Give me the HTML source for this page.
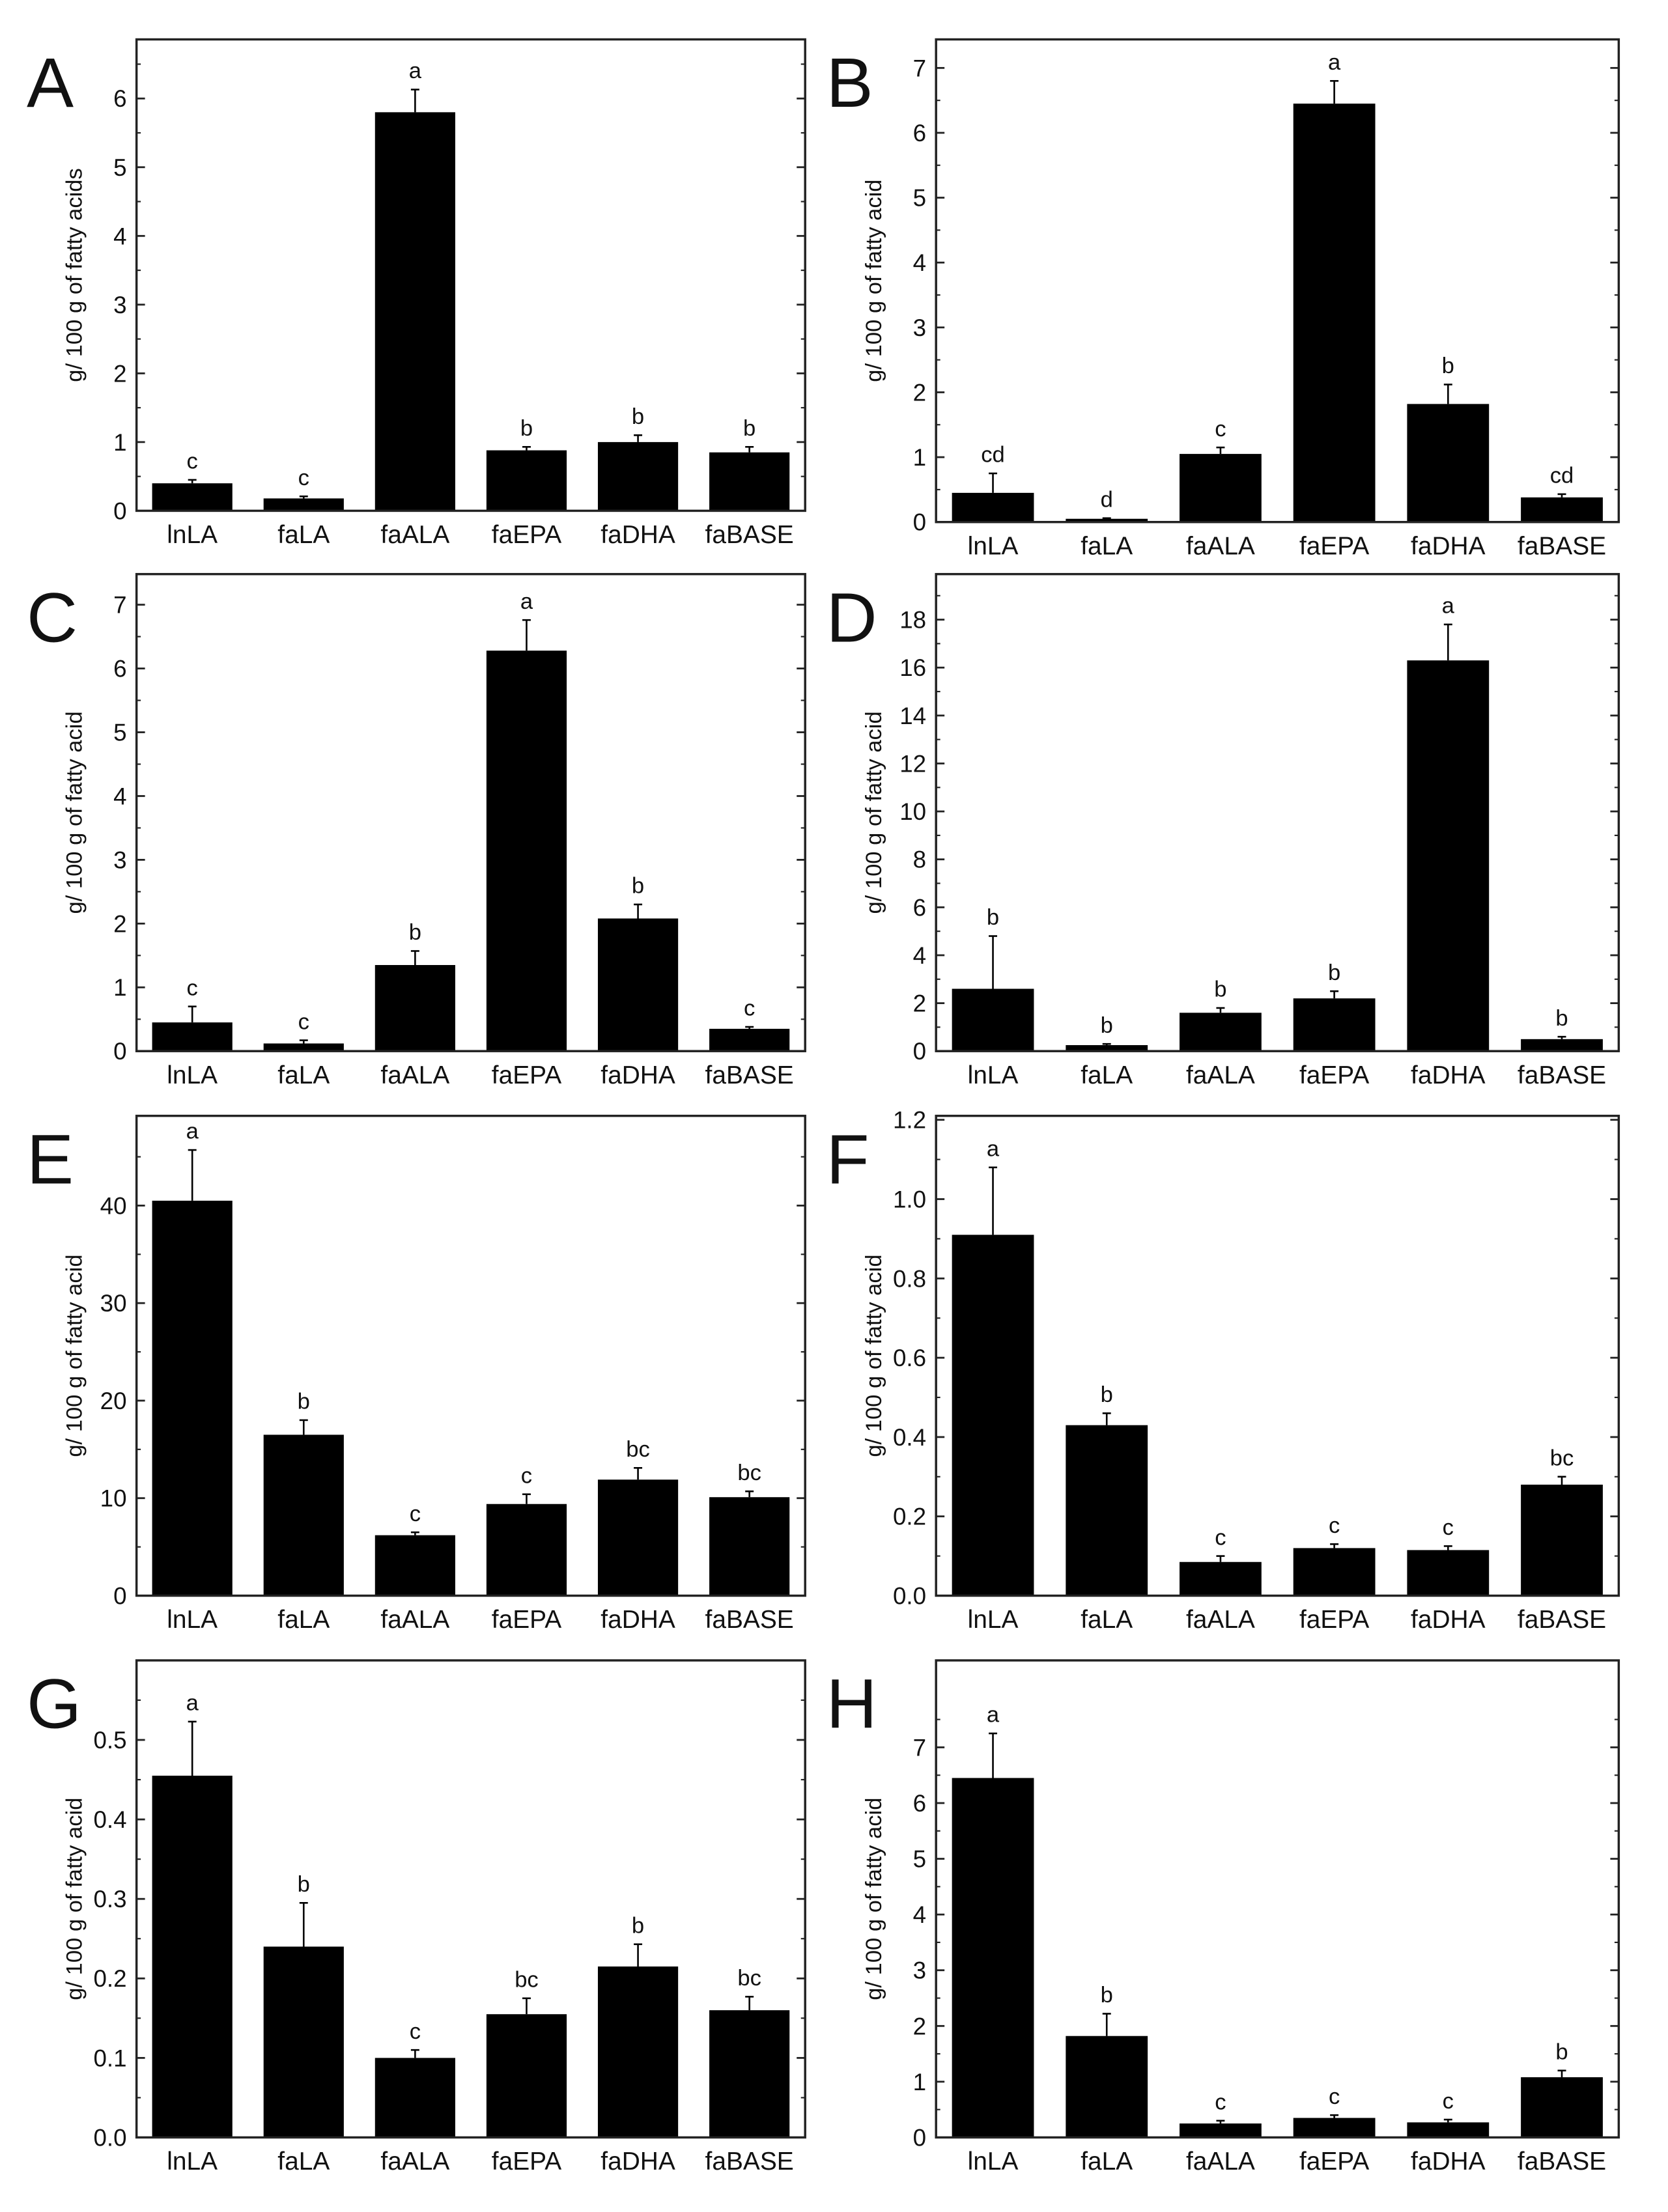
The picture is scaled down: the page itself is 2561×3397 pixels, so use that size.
<!DOCTYPE html>
<html><head><meta charset="utf-8"><style>
html,body{margin:0;padding:0;background:#fff}
svg{display:block}
text{font-family:"Liberation Sans",Arial,sans-serif;fill:#111}
</style></head><body>
<svg id="fig" width="2561" height="3397" viewBox="0 0 1185 1572" preserveAspectRatio="none" xmlns="http://www.w3.org/2000/svg"></svg>
<script>
const categories = ["lnLA","faLA","faALA","faEPA","faDHA","faBASE"];
const valsA = [0.4,0.18,5.8,0.88,1.0,0.85];
const errA = [0.05,0.03,0.33,0.05,0.1,0.08];
const letA = ["c","c","a","b","b","b"];
const valsB = [0.45,0.05,1.05,6.45,1.82,0.38];
const errB = [0.3,0.01,0.1,0.35,0.3,0.05];
const letB = ["cd","d","c","a","b","cd"];
const valsC = [0.45,0.12,1.35,6.28,2.08,0.35];
const errC = [0.25,0.05,0.22,0.48,0.22,0.03];
const letC = ["c","c","b","a","b","c"];
const valsD = [2.6,0.25,1.6,2.2,16.3,0.5];
const errD = [2.2,0.05,0.2,0.3,1.5,0.1];
const letD = ["b","b","b","b","a","b"];
const valsE = [40.5,16.5,6.2,9.4,11.9,10.1];
const errE = [5.2,1.5,0.3,1.0,1.2,0.6];
const letE = ["a","b","c","c","bc","bc"];
const valsF = [0.91,0.43,0.085,0.12,0.115,0.28];
const errF = [0.17,0.03,0.015,0.01,0.01,0.02];
const letF = ["a","b","c","c","c","bc"];
const valsG = [0.455,0.24,0.1,0.155,0.215,0.16];
const errG = [0.068,0.055,0.01,0.02,0.028,0.017];
const letG = ["a","b","c","bc","b","bc"];
const valsH = [6.45,1.82,0.25,0.35,0.27,1.08];
const errH = [0.8,0.4,0.05,0.05,0.05,0.12];
const letH = ["a","b","c","c","c","b"];
const ticksA=[0,1,2,3,4,5,6], ticksB=[0,1,2,3,4,5,6,7], ticksC=[0,1,2,3,4,5,6,7];
const ticksD=[0,2,4,6,8,10,12,14,16,18], ticksE=[0,10,20,30,40];
const ticksF=[0,0.2,0.4,0.6,0.8,1.0,1.2], ticksG=[0,0.1,0.2,0.3,0.4,0.5], ticksH=[0,1,2,3,4,5,6,7];

const NS="http://www.w3.org/2000/svg";
const svg=document.getElementById('fig');
function mk(t,a,p){const e=document.createElementNS(NS,t);for(const k in a)e.setAttribute(k,a[k]);(p||svg).appendChild(e);return e;}

const panels=[
 {id:"A",x0:97,x1:572,y0:28,y1:363,max:6.86,vals:valsA,err:errA,lets:letA,ticks:ticksA,dec:0,title:"g/ 100 g of fatty acids"},
 {id:"B",x0:665,x1:1150,y0:28,y1:371,max:7.44,vals:valsB,err:errB,lets:letB,ticks:ticksB,dec:0,title:"g/ 100 g of fatty acid"},
 {id:"C",x0:97,x1:572,y0:408,y1:747,max:7.48,vals:valsC,err:errC,lets:letC,ticks:ticksC,dec:0,title:"g/ 100 g of fatty acid"},
 {id:"D",x0:665,x1:1150,y0:408,y1:747,max:19.9,vals:valsD,err:errD,lets:letD,ticks:ticksD,dec:0,title:"g/ 100 g of fatty acid"},
 {id:"E",x0:97,x1:572,y0:793,y1:1134,max:49.2,vals:valsE,err:errE,lets:letE,ticks:ticksE,dec:0,title:"g/ 100 g of fatty acid"},
 {id:"F",x0:665,x1:1150,y0:793,y1:1134,max:1.21,vals:valsF,err:errF,lets:letF,ticks:ticksF,dec:1,title:"g/ 100 g of fatty acid"},
 {id:"G",x0:97,x1:572,y0:1180,y1:1519,max:0.6,vals:valsG,err:errG,lets:letG,ticks:ticksG,dec:1,title:"g/ 100 g of fatty acid"},
 {id:"H",x0:665,x1:1150,y0:1180,y1:1519,max:8.56,vals:valsH,err:errH,lets:letH,ticks:ticksH,dec:0,title:"g/ 100 g of fatty acid"}
];

panels.forEach(p=>{
  const g=mk('g',{});
  
  
  const y=v=>p.y1-(v/p.max)*(p.y1-p.y0);
  const slot=(p.x1-p.x0)/6;
  const xc=i=>p.x0+slot*(i+0.5);
  const bw=slot*0.72;
  const lab=mk('text',{x:p.x0-78,y:p.y0+48,'font-size':50},g);
  lab.textContent=p.id;
  
  
  const step=p.ticks[1]-p.ticks[0];
  p.ticks.forEach(t=>{
    const yy=y(t);
    mk('line',{x1:p.x0,x2:p.x0+6,y1:yy,y2:yy,stroke:'#222','stroke-width':1.3},g);
    mk('line',{x1:p.x1,x2:p.x1-6,y1:yy,y2:yy,stroke:'#222','stroke-width':1.3},g);
    const ym=y(t+step/2);
    if(ym>p.y0){mk('line',{x1:p.x0,x2:p.x0+3,y1:ym,y2:ym,stroke:'#222','stroke-width':1},g);
      mk('line',{x1:p.x1,x2:p.x1-3,y1:ym,y2:ym,stroke:'#222','stroke-width':1},g);}
    const tl=mk('text',{x:p.x0-7,y:yy+6,'font-size':17,'text-anchor':'end'},g);
    tl.textContent=t.toFixed(p.dec);
    
    
  });
  const tt=mk('text',{x:0,y:0,'font-size':16,'text-anchor':'middle',transform:`translate(${p.x0-39},${(p.y0+p.y1)/2}) rotate(-90)`},g);
  tt.textContent=p.title;
  
  
  p.vals.forEach((v,i)=>{
    const cx=xc(i), top=y(v), et=y(v+p.err[i]);
    const r=mk('rect',{x:cx-bw/2,y:top,width:bw,height:p.y1-top,fill:'#000'},g);
    
    
    mk('line',{x1:cx,x2:cx,y1:top,y2:et,stroke:'#000','stroke-width':1.2},g);
    mk('line',{x1:cx-3,x2:cx+3,y1:et,y2:et,stroke:'#000','stroke-width':1.2},g);
    const sl=mk('text',{x:cx,y:et-8,'font-size':16,'text-anchor':'middle'},g);
    sl.textContent=p.lets[i];
    
    
    const cl=mk('text',{x:cx,y:p.y1+23,'font-size':18,'text-anchor':'middle'},g);
    cl.textContent=categories[i];
    
    
  });
  const fr=mk('rect',{x:p.x0,y:p.y0,width:p.x1-p.x0,height:p.y1-p.y0,fill:'none',stroke:'#222','stroke-width':1.6},g);
  
  
});
</script>
</body></html>
